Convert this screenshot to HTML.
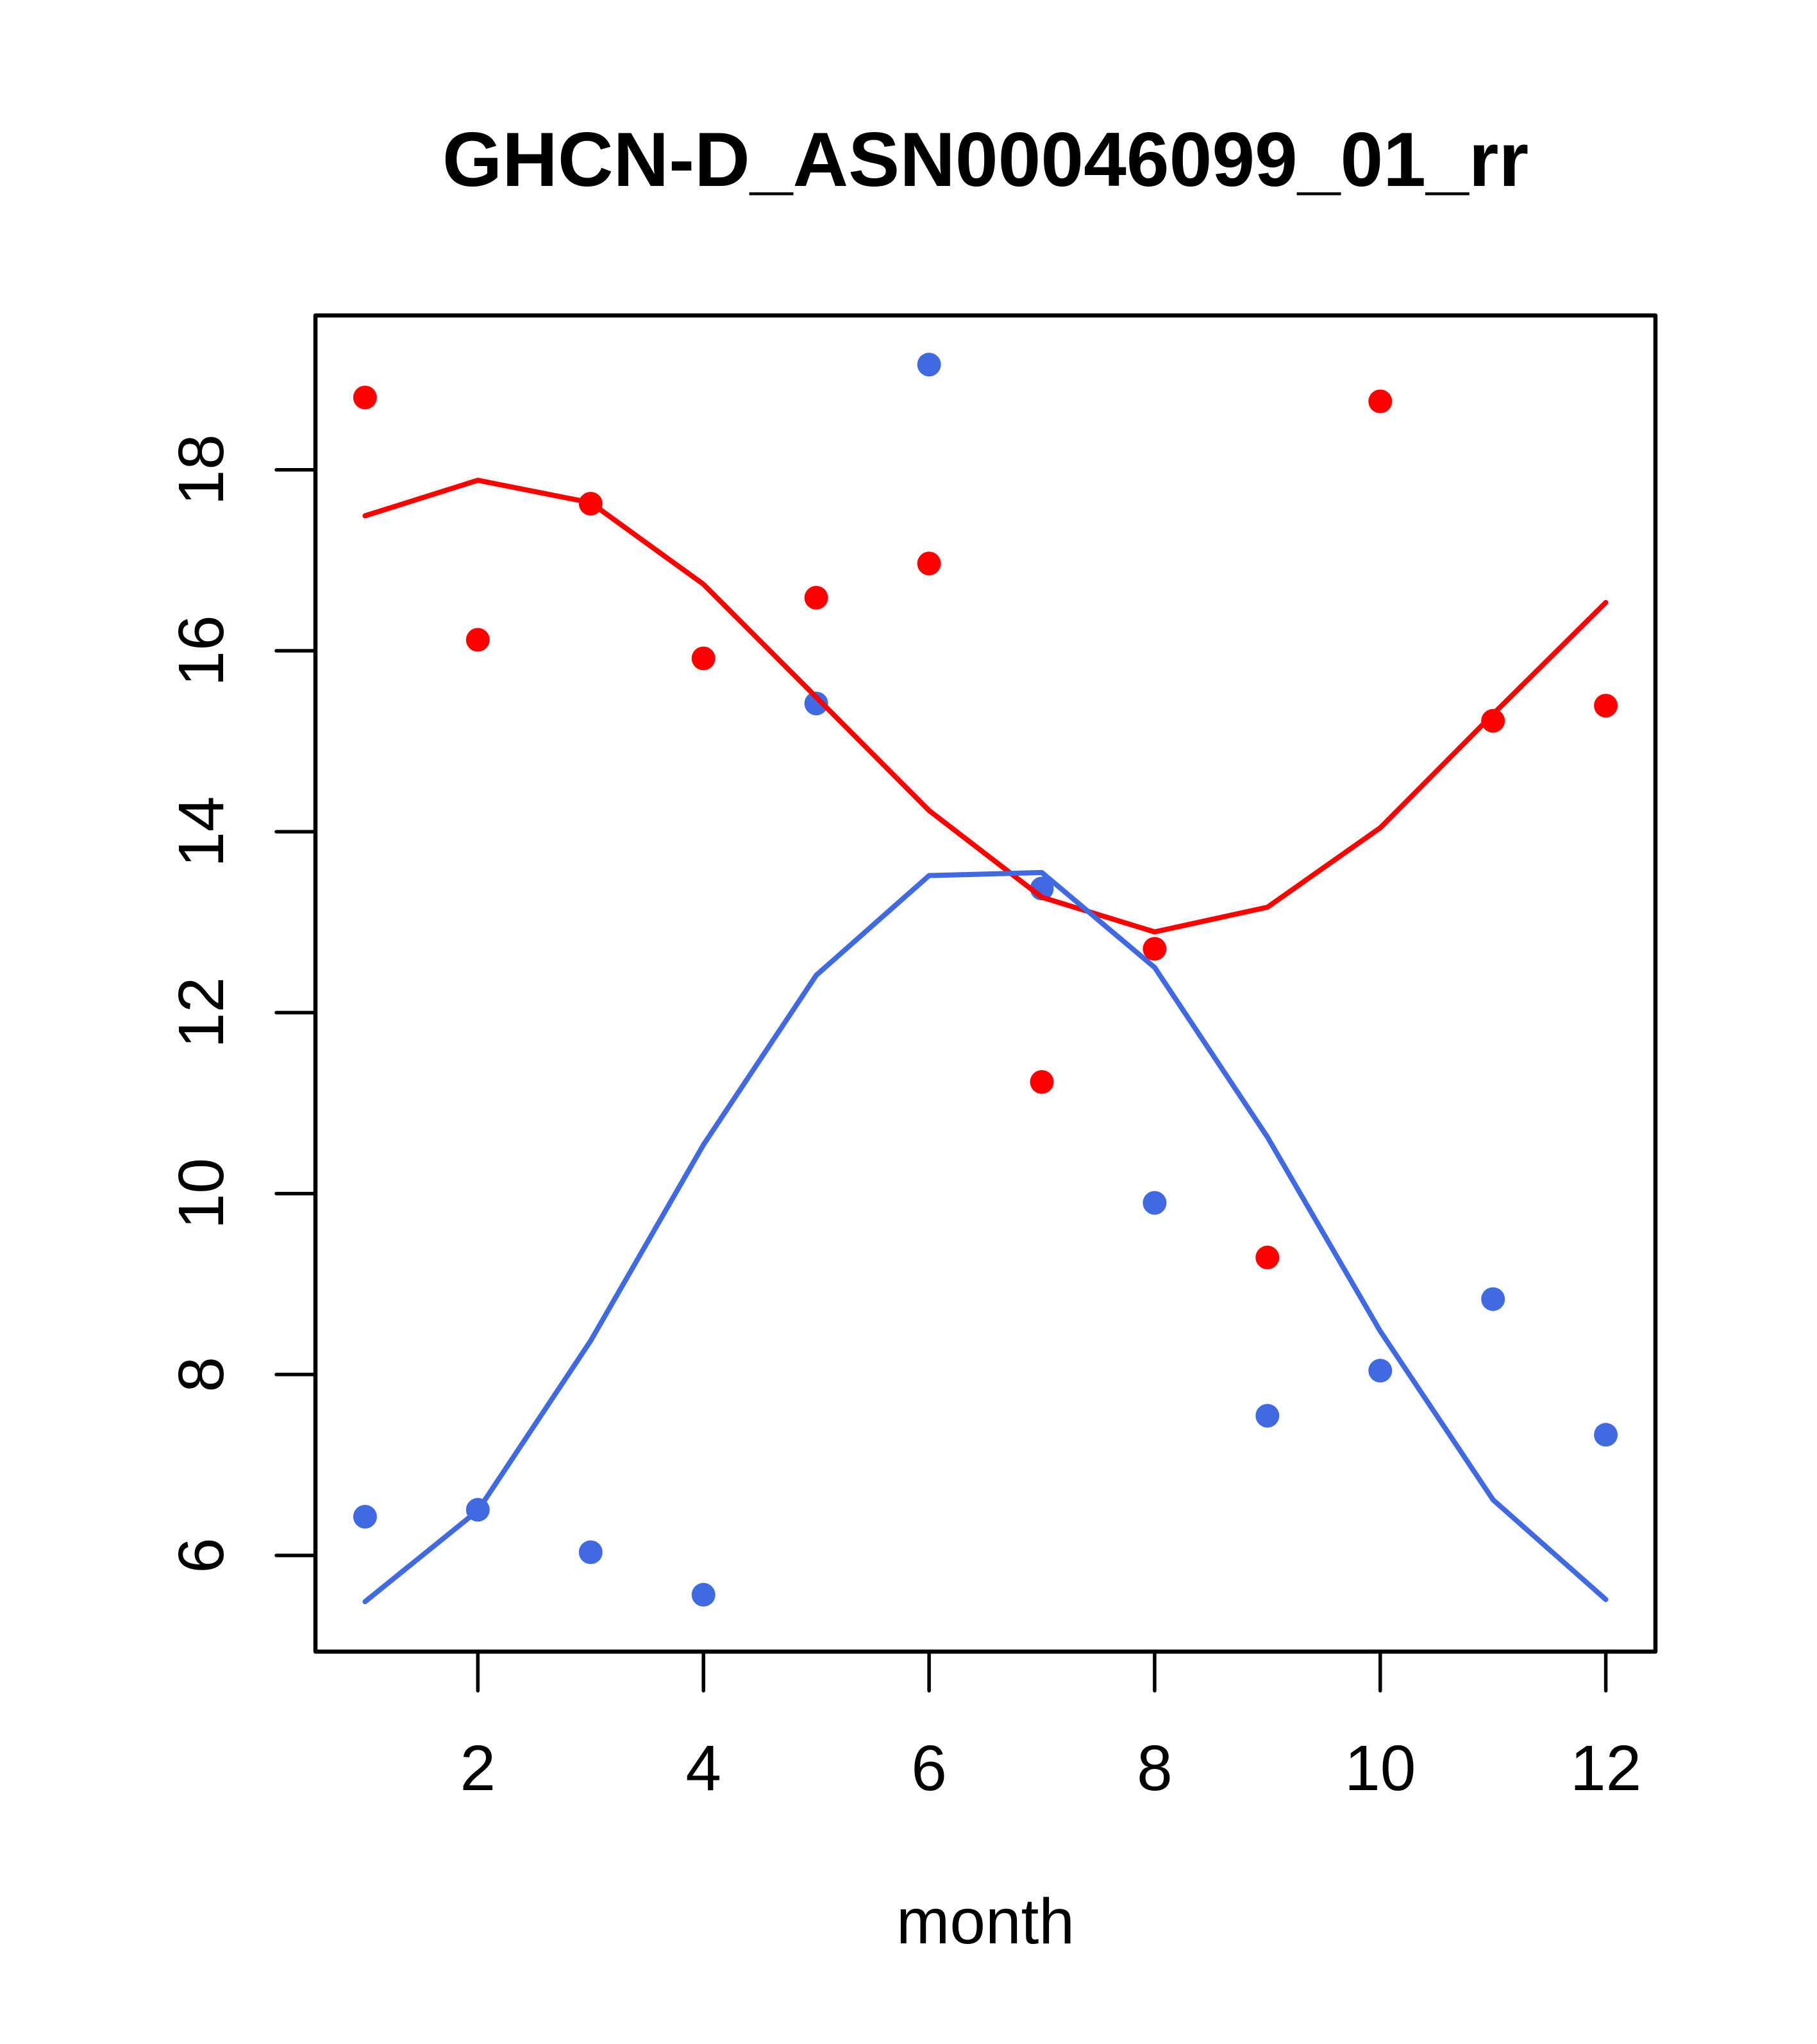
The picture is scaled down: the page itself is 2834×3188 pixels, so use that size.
<!DOCTYPE html>
<html>
<head>
<meta charset="utf-8">
<style>
  html, body { margin:0; padding:0; background:#ffffff; }
  svg { display:block; }
  text { font-family: "Liberation Sans", Arial, sans-serif; fill:#000; }
</style>
</head>
<body>
<svg width="2834" height="3188" viewBox="0 0 2834 3188" xmlns="http://www.w3.org/2000/svg">
  <rect x="0" y="0" width="2834" height="3188" fill="#ffffff"/>

  <!-- Title -->
  <text x="1537" y="290" font-size="120" font-weight="bold" text-anchor="middle">GHCN-D_ASN00046099_01_rr</text>

  <!-- Red points -->
  <g fill="#ff0000">
    <circle cx="569.4" cy="620" r="18.5"/>
    <circle cx="745.3" cy="997.9" r="18.5"/>
    <circle cx="921.3" cy="785.6" r="18.5"/>
    <circle cx="1097.2" cy="1026.9" r="18.5"/>
    <circle cx="1273.1" cy="932.3" r="18.5"/>
    <circle cx="1449.1" cy="878.9" r="18.5"/>
    <circle cx="1625.0" cy="1687.5" r="18.5"/>
    <circle cx="1800.9" cy="1479.9" r="18.5"/>
    <circle cx="1976.8" cy="1961.3" r="18.5"/>
    <circle cx="2152.8" cy="626" r="18.5"/>
    <circle cx="2328.7" cy="1124.3" r="18.5"/>
    <circle cx="2504.6" cy="1100.6" r="18.5"/>
  </g>

  <!-- Blue points -->
  <g fill="#4169e1">
    <circle cx="569.4" cy="2365.6" r="18.5"/>
    <circle cx="745.3" cy="2354.8" r="18.5"/>
    <circle cx="921.3" cy="2421" r="18.5"/>
    <circle cx="1097.2" cy="2487.3" r="18.5"/>
    <circle cx="1273.1" cy="1097.2" r="18.5"/>
    <circle cx="1449.1" cy="568.6" r="18.5"/>
    <circle cx="1625.0" cy="1385.9" r="18.5"/>
    <circle cx="1800.9" cy="1876.1" r="18.5"/>
    <circle cx="1976.8" cy="2208.1" r="18.5"/>
    <circle cx="2152.8" cy="2137.8" r="18.5"/>
    <circle cx="2328.7" cy="2026.2" r="18.5"/>
    <circle cx="2504.6" cy="2237.8" r="18.5"/>
  </g>

  <!-- Red line -->
  <polyline fill="none" stroke="#ff0000" stroke-width="8" stroke-linecap="round" stroke-linejoin="round"
    points="569.4,804.5 745.3,749.1 921.3,784 1097.2,911.3 1273.1,1087.4 1449.1,1264.2 1625.0,1399.4 1800.9,1453.5 1976.8,1415 2152.8,1291.2 2328.7,1114 2504.6,939.7"/>

  <!-- Blue line -->
  <polyline fill="none" stroke="#4169e1" stroke-width="8" stroke-linecap="round" stroke-linejoin="round"
    points="569.4,2498.1 745.3,2356 921.3,2091.1 1097.2,1785.5 1273.1,1521.1 1449.1,1365.6 1625.0,1360.9 1800.9,1508.9 1976.8,1773.4 2152.8,2076.2 2328.7,2339.2 2504.6,2494.7"/>

  <!-- Plot box -->
  <rect x="492" y="492" width="2090" height="2084" fill="none" stroke="#000" stroke-width="6.5" stroke-linejoin="round"/>

  <!-- X ticks -->
  <g stroke="#000" stroke-width="5.5" stroke-linecap="round">
    <line x1="745.3" y1="2576" x2="745.3" y2="2637"/>
    <line x1="1097.2" y1="2576" x2="1097.2" y2="2637"/>
    <line x1="1449.1" y1="2576" x2="1449.1" y2="2637"/>
    <line x1="1800.9" y1="2576" x2="1800.9" y2="2637"/>
    <line x1="2152.8" y1="2576" x2="2152.8" y2="2637"/>
    <line x1="2504.6" y1="2576" x2="2504.6" y2="2637"/>
  </g>
  <g font-size="100" text-anchor="middle">
    <text x="745.3" y="2792">2</text>
    <text x="1097.2" y="2792">4</text>
    <text x="1449.1" y="2792">6</text>
    <text x="1800.9" y="2792">8</text>
    <text x="2152.8" y="2792">10</text>
    <text x="2504.6" y="2792">12</text>
  </g>

  <!-- Y ticks -->
  <g stroke="#000" stroke-width="5.5" stroke-linecap="round">
    <line x1="431" y1="2426" x2="492" y2="2426"/>
    <line x1="431" y1="2143.8" x2="492" y2="2143.8"/>
    <line x1="431" y1="1861.6" x2="492" y2="1861.6"/>
    <line x1="431" y1="1579.4" x2="492" y2="1579.4"/>
    <line x1="431" y1="1297.2" x2="492" y2="1297.2"/>
    <line x1="431" y1="1015" x2="492" y2="1015"/>
    <line x1="431" y1="732.8" x2="492" y2="732.8"/>
  </g>
  <g font-size="100" text-anchor="middle">
    <text transform="translate(348,2426) rotate(-90)">6</text>
    <text transform="translate(348,2143.8) rotate(-90)">8</text>
    <text transform="translate(348,1861.6) rotate(-90)">10</text>
    <text transform="translate(348,1579.4) rotate(-90)">12</text>
    <text transform="translate(348,1297.2) rotate(-90)">14</text>
    <text transform="translate(348,1015) rotate(-90)">16</text>
    <text transform="translate(348,732.8) rotate(-90)">18</text>
  </g>

  <!-- X axis label -->
  <text x="1537" y="3031" font-size="100" text-anchor="middle">month</text>
</svg>
</body>
</html>
